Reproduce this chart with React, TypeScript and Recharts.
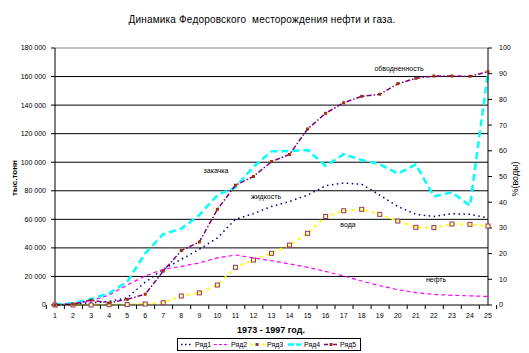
import React from "react";
import { ComposedChart, Line, XAxis, YAxis, ReferenceLine } from "recharts";

const years = ["1","2","3","4","5","6","7","8","9","10","11","12","13","14","15","16","17","18","19","20","21","22","23","24","25"];
const liquid = [300, 800, 1500, 2500, 5000, 16000, 25000, 32000, 39000, 47000, 60000, 64000, 69000, 72500, 77000, 83500, 85500, 84500, 77000, 69000, 63500, 62000, 64000, 63500, 61000];
const oil = [200, 800, 3000, 7000, 14000, 20300, 25000, 27000, 29500, 33000, 35000, 33000, 31000, 28800, 26400, 23500, 20300, 16800, 13500, 10700, 8700, 7400, 6800, 6400, 6000];
const water = [0, 0, 0, 200, 300, 700, 1600, 6300, 8500, 14000, 26400, 31500, 36200, 42000, 50200, 62000, 66000, 67000, 63500, 58800, 54400, 54200, 56700, 56500, 55300];
const injection = [300, 1200, 4200, 8200, 16300, 36200, 49700, 53500, 63000, 77000, 82400, 96900, 107600, 107900, 108600, 97400, 105600, 101600, 98500, 92000, 98500, 76000, 79000, 69500, 163000];
const waterCut = [0, 0.3, 1.9, 0.8, 2.2, 4.2, 13.2, 21.2, 24.5, 37.2, 46.6, 50, 55.8, 58.6, 68.5, 74.6, 78.7, 81.2, 82, 86.1, 88.2, 89.1, 89.1, 89, 90.8];

const leftTicks = [0, 20000, 40000, 60000, 80000, 100000, 120000, 140000, 160000, 180000];
const rightTicks = [0, 10, 20, 30, 40, 50, 60, 70, 80, 90, 100];
const gridValues = [20000, 40000, 60000, 80000, 100000, 120000, 140000, 160000];
const seriesNames = ["Ряд1", "Ряд2", "Ряд3", "Ряд4", "Ряд5"];

const data = years.map((y, i) => ({
  year: y,
  r1: liquid[i],
  r2: oil[i],
  r3: water[i],
  r4: injection[i],
  r5: waterCut[i],
}));

const FONT = "'Liberation Sans', Arial, sans-serif";

const fmt = (v: number) => String(v).replace(/\B(?=(\d{3})+(?!\d))/g, " ");

const XTick = (props: any) => {
  const { x, y, payload, index, visibleTicksCount } = props;
  const off = payload && typeof payload.offset === "number" && payload.offset > 0 ? payload.offset : 8.65;
  const last = index === (visibleTicksCount ?? years.length) - 1;
  return (
    <g>
      <line x1={x - off} x2={x - off} y1={y} y2={y + 4} stroke="#000" />
      {last && <line x1={x + off} x2={x + off} y1={y} y2={y + 4} stroke="#000" />}
      <text x={x} y={y + 13} textAnchor="middle" fontSize={7} fontFamily={FONT} fill="#000">
        {payload.value}
      </text>
    </g>
  );
};

const SquareDot = (props: any) => {
  const { cx, cy, index } = props;
  if (cx == null || cy == null) return <g key={index} />;
  return <rect key={index} x={cx - 2} y={cy - 2} width={4} height={4} fill="#FFFF99" stroke="#993366" strokeWidth={1} />;
};

const BrownDot = (props: any) => {
  const { cx, cy, index } = props;
  if (cx == null || cy == null) return <g key={index} />;
  return <rect key={index} x={cx - 1.5} y={cy - 1.5} width={3} height={3} fill="#993300" stroke="none" />;
};

const label = (text: string, cx: number, cy: number, size = 7, bold = false, spacing = 0) => (
  <div
    style={{
      position: "absolute",
      left: cx,
      top: cy - size,
      transform: "translateX(-50%)",
      fontSize: size,
      fontFamily: FONT,
      fontWeight: bold ? "bold" : "normal",
      lineHeight: `${size * 2}px`,
      letterSpacing: spacing,
      color: "#000",
      whiteSpace: "pre",
    }}
  >
    {text}
  </div>
);

export default function App() {
  return (
    <div style={{ position: "absolute", left: 0, top: 0, width: 529, height: 353, background: "#fff", overflow: "hidden" }}>
      <ComposedChart width={529} height={353} data={data} margin={{ top: 48, right: 0, bottom: 28, left: 0 }}>
        <XAxis
          dataKey="year"
          height={20}
          tickSize={0}
          tickMargin={0}
          interval={0}
          axisLine={{ stroke: "#000" }}
          tick={<XTick />}
        />
        <YAxis
          yAxisId="left"
          width={55}
          domain={[0, 180000]}
          ticks={leftTicks}
          interval={0}
          tickFormatter={fmt}
          tickSize={4}
          tickMargin={5}
          axisLine={{ stroke: "#000" }}
          tickLine={{ stroke: "#000" }}
          tick={{ fontSize: 7, fontFamily: FONT, fill: "#000" }}
        />
        <YAxis
          yAxisId="right"
          orientation="right"
          width={41}
          domain={[0, 100]}
          ticks={rightTicks}
          interval={0}
          tickSize={4}
          tickMargin={7}
          axisLine={{ stroke: "#000" }}
          tickLine={{ stroke: "#000" }}
          tick={{ fontSize: 7, fontFamily: FONT, fill: "#000", textAnchor: "start" }}
        />
        {gridValues.map((v) => (
          <ReferenceLine key={v} yAxisId="left" y={v} stroke="#000" strokeWidth={1} />
        ))}
        <ReferenceLine yAxisId="left" y={180000} stroke="#808080" strokeWidth={1} />
        <Line yAxisId="left" dataKey="r1" name={seriesNames[0]} stroke="#000080" strokeWidth={1.5} strokeDasharray="1.5 3.5" dot={false} isAnimationActive={false} type="linear" />
        <Line yAxisId="left" dataKey="r2" name={seriesNames[1]} stroke="#FF00FF" strokeWidth={1.2} strokeDasharray="4 3" dot={false} isAnimationActive={false} type="linear" />
        <Line yAxisId="left" dataKey="r3" name={seriesNames[2]} stroke="#FFFF00" strokeWidth={2} strokeDasharray="3 4" dot={<SquareDot />} isAnimationActive={false} type="linear" />
        <Line yAxisId="left" dataKey="r4" name={seriesNames[3]} stroke="#00FFFF" strokeWidth={2.5} strokeDasharray="7 4" dot={false} isAnimationActive={false} type="linear" />
        <Line yAxisId="right" dataKey="r5" name={seriesNames[4]} stroke="#800080" strokeWidth={1.5} strokeDasharray="5 2 1.5 2" dot={<BrownDot />} isAnimationActive={false} type="linear" />
      </ComposedChart>

      {label("Динамика Федоровского  месторождения нефти и газа.", 262, 20, 10, false, 0.2)}
      {label("1973 - 1997 год.", 271, 330, 9, true)}
      {label("закачка", 216, 171, 7)}
      {label("жидкость", 266, 197, 7)}
      {label("обводненность", 399, 69, 7)}
      {label("вода", 348, 225, 7)}
      {label("нефть", 436, 280, 7)}

      <div style={{ position: "absolute", left: 15, top: 178, transform: "translate(-50%, -50%) rotate(-90deg)", fontSize: 8, fontFamily: FONT, fontWeight: "bold", lineHeight: "12px", whiteSpace: "nowrap" }}>
        тыс.тонн
      </div>
      <div style={{ position: "absolute", left: 515, top: 179, transform: "translate(-50%, -50%) rotate(-90deg)", fontSize: 9, fontFamily: FONT, lineHeight: "12px", whiteSpace: "nowrap" }}>
        %(воды)
      </div>

      <svg style={{ position: "absolute", left: 177, top: 338 }} width={184} height={13}>
        <rect x={0.5} y={0.5} width={183} height={12} fill="#fff" stroke="#000" />
        <line x1={4} x2={16} y1={6.5} y2={6.5} stroke="#000080" strokeWidth={1.5} strokeDasharray="1.5 2.5" />
        <text x={18} y={9} fontSize={7} fontFamily={FONT} fill="#000">{seriesNames[0]}</text>
        <line x1={37} x2={51} y1={6.5} y2={6.5} stroke="#FF00FF" strokeWidth={1.2} strokeDasharray="3 2" />
        <text x={54} y={9} fontSize={7} fontFamily={FONT} fill="#000">{seriesNames[1]}</text>
        <line x1={73} x2={88} y1={6.5} y2={6.5} stroke="#FFFF00" strokeWidth={2} strokeDasharray="3 3" />
        <rect x={78.5} y={5} width={3} height={3} fill="#993366" />
        <text x={90} y={9} fontSize={7} fontFamily={FONT} fill="#000">{seriesNames[2]}</text>
        <line x1={111} x2={124} y1={6.5} y2={6.5} stroke="#00FFFF" strokeWidth={2.5} strokeDasharray="6 2" />
        <text x={127} y={9} fontSize={7} fontFamily={FONT} fill="#000">{seriesNames[3]}</text>
        <line x1={147} x2={161} y1={6.5} y2={6.5} stroke="#800080" strokeWidth={1.5} strokeDasharray="4 2 1 2" />
        <rect x={152.5} y={5} width={3} height={3} fill="#993300" />
        <text x={163} y={9} fontSize={7} fontFamily={FONT} fill="#000">{seriesNames[4]}</text>
      </svg>
    </div>
  );
}
